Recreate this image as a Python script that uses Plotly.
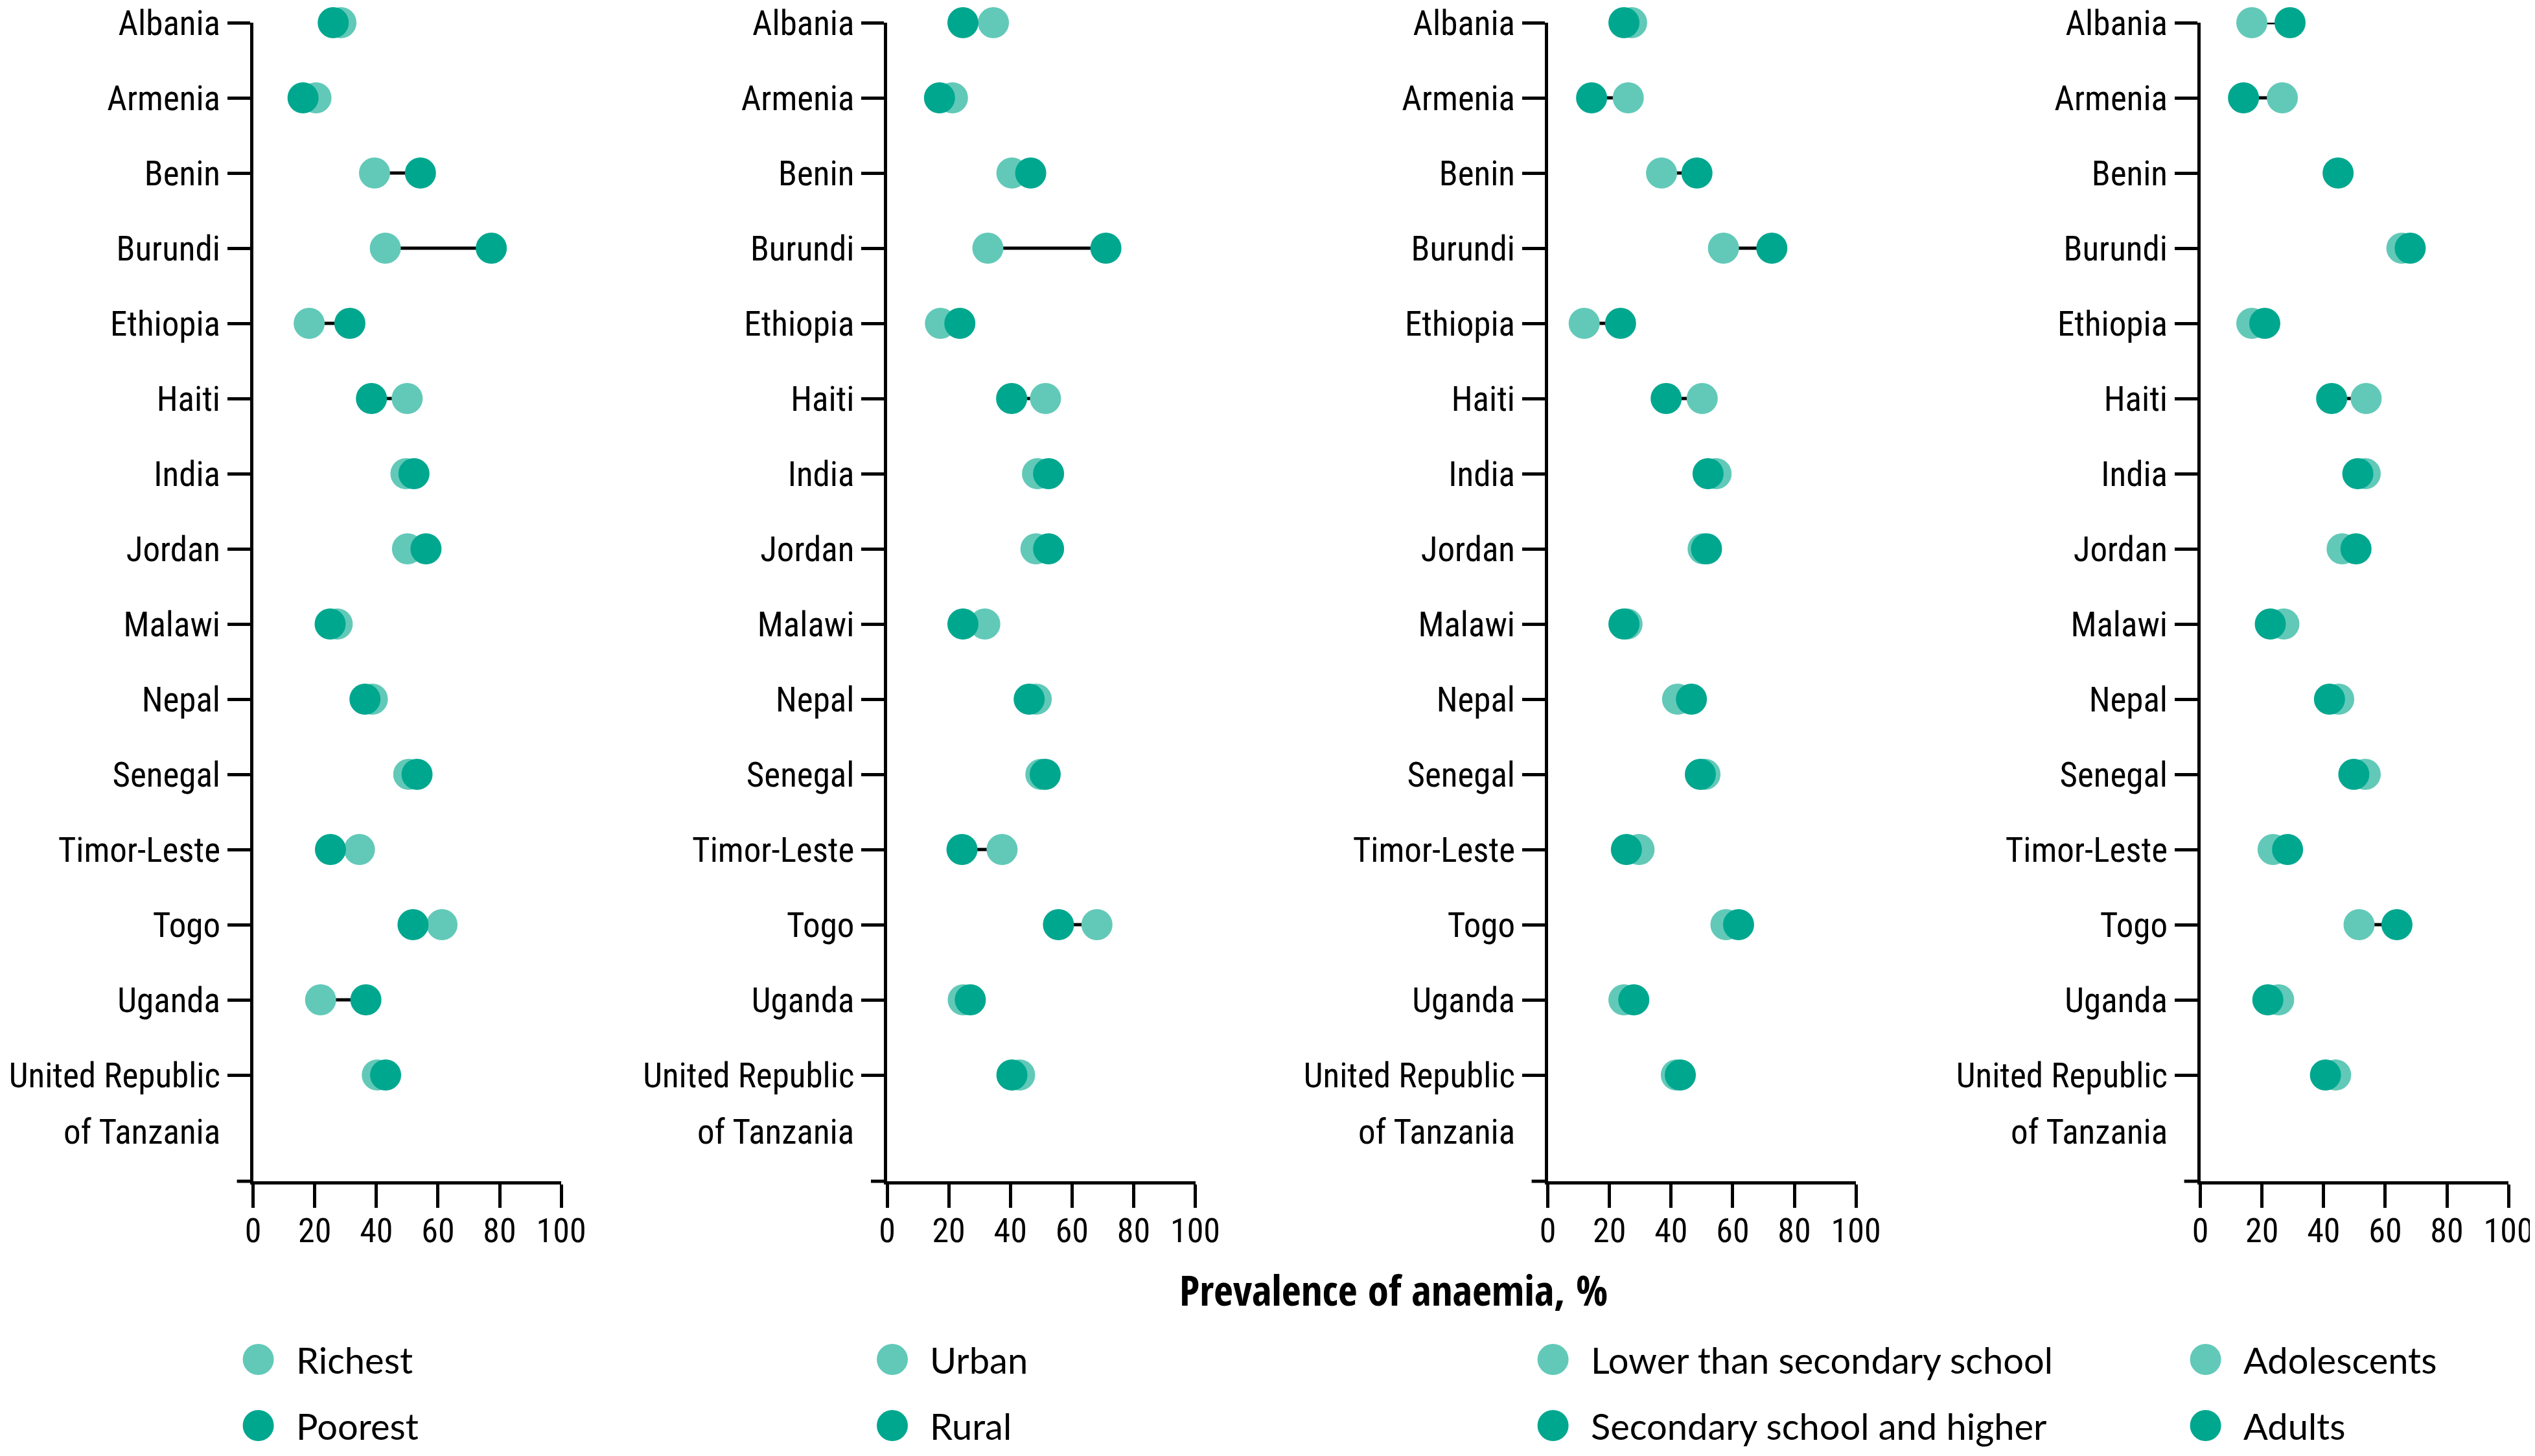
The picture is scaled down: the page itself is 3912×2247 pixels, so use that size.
import plotly.graph_objects as go

W, H = 3912, 2247

countries = ["Albania", "Armenia", "Benin", "Burundi", "Ethiopia", "Haiti", "India",
             "Jordan", "Malawi", "Nepal", "Senegal", "Timor-Leste", "Togo", "Uganda",
             "United Republic of Tanzania"]
tick_text = ["Albania", "Armenia", "Benin", "Burundi", "Ethiopia", "Haiti", "India",
             "Jordan", "Malawi", "Nepal", "Senegal", "Timor-Leste", "Togo", "Uganda",
             "United Republic"]
tick_text_line2 = "of Tanzania"

x_ticks = [0, 20, 40, 60, 80, 100]

richest = [28.5, 20.4, 39.4, 42.9, 18.2, 50.0, 49.6, 50.1, 27.3, 38.7, 50.5, 34.5, 61.3, 21.9, 40.3]
poorest = [26.0, 16.2, 54.3, 77.3, 31.4, 38.4, 52.2, 56.1, 25.0, 36.3, 53.2, 25.1, 51.9, 36.6, 43.0]

urban = [34.5, 21.2, 40.5, 32.7, 17.3, 51.4, 48.8, 48.3, 31.7, 48.4, 49.9, 37.3, 68.1, 24.7, 43.0]
rural = [24.6, 17.0, 46.6, 71.0, 23.6, 40.4, 52.4, 52.4, 24.6, 46.1, 51.3, 24.3, 55.6, 27.0, 40.5]

lower_secondary = [27.2, 26.1, 36.9, 57.0, 11.8, 50.1, 54.6, 50.4, 25.7, 42.1, 51.0, 29.6, 57.8, 24.7, 41.7]
secondary_higher = [24.7, 14.2, 48.4, 72.7, 23.6, 38.4, 52.0, 51.5, 24.7, 46.6, 49.5, 25.5, 61.9, 27.9, 43.0]

adolescents = [16.7, 26.6, None, 65.4, 16.7, 53.8, 53.5, 46.0, 27.1, 44.9, 53.5, 23.6, 51.5, 25.4, 43.9]
adults = [29.1, 14.0, 44.7, 68.1, 20.9, 42.6, 51.1, 50.5, 22.7, 41.9, 49.8, 28.3, 63.8, 21.9, 40.6]

panels = [
    ("Richest", richest, "Poorest", poorest),
    ("Urban", urban, "Rural", rural),
    ("Lower than secondary school", lower_secondary, "Secondary school and higher", secondary_higher),
    ("Adolescents", adolescents, "Adults", adults),
]

LIGHT = "#62C9B8"
DARK = "#00A78F"
NARROW = "Roboto Condensed, DejaVu Sans Condensed, sans-serif"
BOLD = "Open Sans Condensed, Roboto Condensed, sans-serif"
REG = "Lato, Liberation Sans, Arial, sans-serif"
YTICK_SIZE = 53
XTICK_SIZE = 52

# pixel layout (page pixels; the page body adds an 8 px offset)
OFF = 8
x0_px = [390.6, 1369.0, 2388.6, 3395.6]
plot_w = 475.5
top_px, bottom_px = 35.0, 1823.0
row_px = 116.0
y_bottom_val = (bottom_px - top_px) / row_px

def px(x):
    return (x - OFF) / W

def py(y):
    return 1 - (y - OFF) / H

fig = go.Figure()
ypos = list(range(len(countries)))
shapes = []
annotations = []

for i, (lname, lvals, dname, dvals) in enumerate(panels):
    k = "" if i == 0 else str(i + 1)
    xa, ya = "x" + k, "y" + k
    # connector lines
    cx, cy = [], []
    for j in range(len(countries)):
        if lvals[j] is not None and dvals[j] is not None:
            cx += [lvals[j], dvals[j], None]
            cy += [ypos[j], ypos[j], None]
    fig.add_trace(go.Scatter(x=cx, y=cy, mode="lines", line=dict(color="black", width=5),
                             xaxis=xa, yaxis=ya, showlegend=False, hoverinfo="skip",
                             cliponaxis=False))
    fig.add_trace(go.Scatter(x=lvals, y=ypos, mode="markers", name=lname,
                             marker=dict(color=LIGHT, size=48, line=dict(width=0)),
                             xaxis=xa, yaxis=ya, showlegend=False, cliponaxis=False))
    fig.add_trace(go.Scatter(x=dvals, y=ypos, mode="markers", name=dname,
                             marker=dict(color=DARK, size=48, line=dict(width=0)),
                             xaxis=xa, yaxis=ya, showlegend=False, cliponaxis=False))

    d0 = px(x0_px[i])
    d1 = px(x0_px[i] + plot_w)
    fig.update_layout(**{
        "xaxis" + k: dict(domain=[d0, d1], range=[0, 100], anchor=ya, automargin=False,
                          tickvals=x_ticks, ticktext=[str(v) for v in x_ticks],
                          ticks="outside", ticklen=36, tickwidth=5, tickcolor="black",
                          showline=True, linewidth=5, linecolor="black",
                          showgrid=False, zeroline=False, ticklabeloverflow="allow",
                          ticklabelstandoff=-9,
                          tickfont=dict(family=NARROW, size=XTICK_SIZE, color="black"),
                          fixedrange=True),
        "yaxis" + k: dict(domain=[py(bottom_px), py(top_px)], range=[y_bottom_val, -0.0001],
                          anchor=xa, automargin=False, tickvals=ypos, ticktext=tick_text,
                          ticks="outside", ticklen=35, tickwidth=5, tickcolor="black",
                          showline=True, linewidth=5, linecolor="black",
                          showgrid=False, zeroline=False, ticklabeloverflow="allow",
                          ticklabelstandoff=0,
                          tickfont=dict(family=NARROW, size=YTICK_SIZE, color="black"),
                          fixedrange=True),
    })
    # extension of the x axis line to the left of the y axis
    shapes.append(dict(type="line", xref=xa + " domain", yref=ya + " domain",
                       x0=-25 / plot_w, x1=0, y0=0, y1=0,
                       line=dict(color="black", width=5)))
    # second line of the last category label
    annotations.append(dict(text=tick_text_line2, xref=xa + " domain", yref=ya,
                            x=-49 / plot_w, y=ypos[-1] + 0.76, xanchor="right",
                            yanchor="middle", showarrow=False,
                            font=dict(family=NARROW, size=YTICK_SIZE, color="black")))
    # legend entries
    mx = x0_px[i] + 8
    for name, color, ly in [(lname, LIGHT, 2098), (dname, DARK, 2200)]:
        shapes.append(dict(type="circle", xref="paper", yref="paper",
                           x0=px(mx - 24), x1=px(mx + 24), y0=py(ly + 24), y1=py(ly - 24),
                           fillcolor=color, line=dict(width=0)))
        annotations.append(dict(text=name, xref="paper", yref="paper",
                                x=px(mx + 56), y=py(ly), xanchor="left", yanchor="middle",
                                showarrow=False,
                                font=dict(family=REG, size=56, color="black")))

annotations.append(dict(text="<b>Prevalence of anaemia, %</b>", xref="paper", yref="paper",
                        x=px(2150), y=py(1990), xanchor="center", yanchor="middle",
                        showarrow=False, font=dict(family=BOLD, size=65, color="black")))

fig.update_layout(template="none", width=W, height=H, autosize=False,
                  margin=dict(l=0, r=0, t=0, b=0, autoexpand=False),
                  paper_bgcolor="white", plot_bgcolor="white",
                  shapes=shapes, annotations=annotations, showlegend=False)

fig.write_html("out.html")
